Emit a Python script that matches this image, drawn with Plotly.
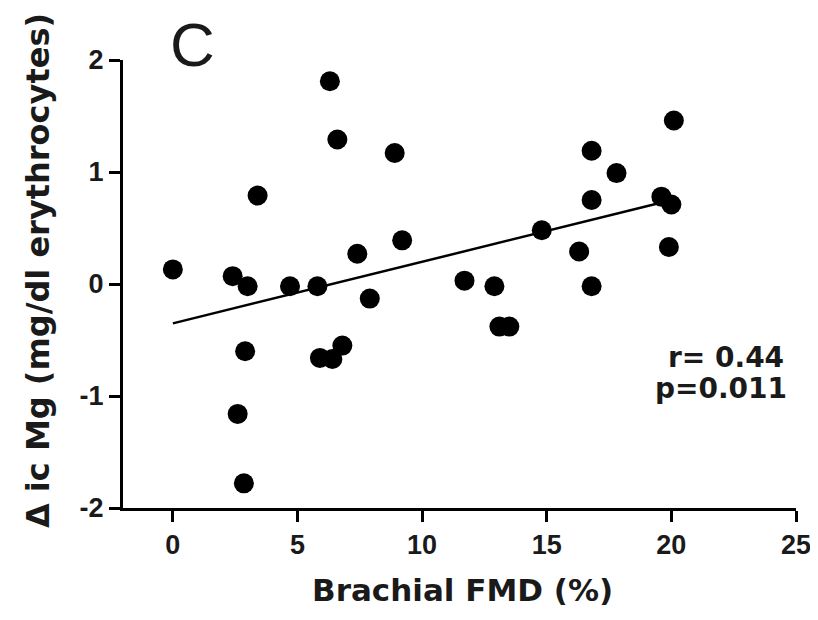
import numpy as np
import plotly.graph_objects as go

fmd = [0.0, 2.4, 3.0, 4.7, 5.8, 3.4, 6.3, 6.6, 8.9, 7.4, 9.2, 7.9, 2.9, 2.6, 2.85,
       5.9, 6.4, 6.8, 11.7, 12.9, 13.1, 13.5, 14.8, 16.3, 16.8, 16.8, 16.8, 17.8,
       19.6, 20.0, 19.9, 20.1]
delta_mg = [0.13, 0.07, -0.02, -0.02, -0.02, 0.79, 1.81, 1.29, 1.17, 0.27, 0.39, -0.13,
            -0.60, -1.16, -1.78, -0.66, -0.67, -0.55, 0.03, -0.02, -0.38, -0.38, 0.48,
            0.29, 1.19, 0.75, -0.02, 0.99, 0.78, 0.71, 0.33, 1.46]
x_ticks = [0, 5, 10, 15, 20, 25]
x_tick_labels = ["0", "5", "10", "15", "20", "25"]
y_ticks = [-2, -1, 0, 1, 2]
y_tick_labels = ["-2", "-1", "0", "1", "2"]
x_title = "Brachial FMD (%)"
y_title = "Δ ic Mg (mg/dl erythrocytes)"
panel_label = "C"
r_text = "r= 0.44"
p_text = "p=0.011"

slope, intercept = np.polyfit(fmd, delta_mg, 1)
fit_x = np.array([min(fmd), max(fmd)])
fit_y = intercept + slope * fit_x

fig = go.Figure()
fig.add_trace(go.Scatter(x=fit_x, y=fit_y, mode="lines",
                         line=dict(color="black", width=2.5), showlegend=False))
fig.add_trace(go.Scatter(x=fmd, y=delta_mg, mode="markers",
                         marker=dict(color="black", size=20), showlegend=False))

ink = "#1a1a1a"
tick_font = dict(family="Liberation Sans, Arial, sans-serif", size=27, color=ink, weight="bold")
title_font = dict(family="DejaVu Sans, sans-serif", size=31, color=ink, weight="bold")
stat_font = dict(family="DejaVu Sans, sans-serif", size=28, color=ink, weight="bold")

axis_common = dict(showgrid=False, zeroline=False, showline=True, linecolor="black",
                   linewidth=3, ticks="outside", ticklen=11, tickwidth=3,
                   tickcolor="black", tickfont=tick_font, automargin=False,
                   ticklabeloverflow="allow")

# page has an 8px body margin; figure is sized so the plot lands where the reference's does
fig.update_layout(
    width=810, height=612,
    margin=dict(l=115, r=22, t=52, b=112),
    plot_bgcolor="white", paper_bgcolor="white",
    xaxis=dict(axis_common, range=[-2, 25], tickvals=x_ticks, ticktext=x_tick_labels),
    yaxis=dict(axis_common, range=[-2, 2], tickvals=y_ticks, ticktext=y_tick_labels),
    annotations=[
        dict(text=panel_label, xref="paper", yref="paper", x=0.104, y=1.0335, showarrow=False,
             font=dict(family="Liberation Sans, Arial, sans-serif", size=62, color=ink),
             xanchor="center", yanchor="middle"),
        dict(text=r_text, xref="paper", yref="paper", x=0.9851, y=0.335, showarrow=False,
             xanchor="right", yanchor="middle", font=stat_font),
        dict(text=p_text, xref="paper", yref="paper", x=0.9896, y=0.266, showarrow=False,
             xanchor="right", yanchor="middle", font=stat_font),
        dict(text=x_title, xref="paper", yref="paper", x=0.504, y=-0.183, showarrow=False,
             xanchor="center", yanchor="middle", font=title_font),
        dict(text=y_title, xref="paper", yref="paper", x=-0.1264, y=0.531, showarrow=False,
             textangle=-90, xanchor="center", yanchor="middle",
             font=dict(title_font, size=32)),
    ],
)
fig.write_html("out.html")
